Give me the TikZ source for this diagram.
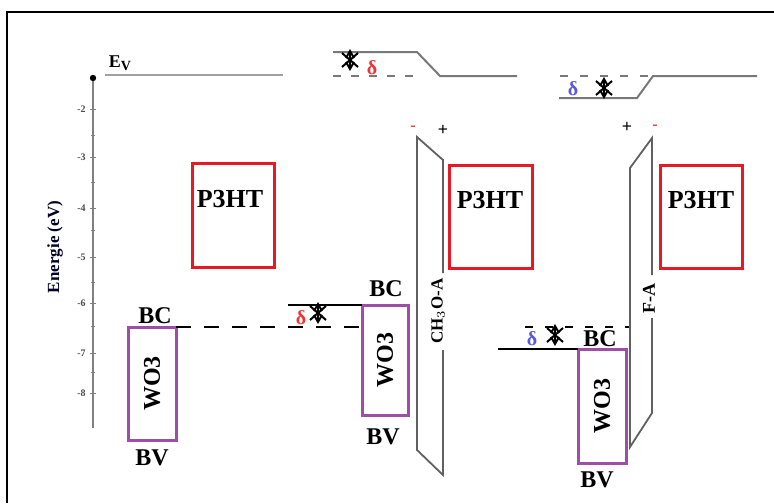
\documentclass[tikz,border=0pt]{standalone}
\usepackage{fontspec}
\setmainfont{Liberation Serif}
\usepackage{xcolor}
\usetikzlibrary{arrows.meta}

\definecolor{pthtred}{RGB}{232,24,36}
\definecolor{wopurple}{RGB}{158,78,168}
\definecolor{deltared}{RGB}{240,52,52}
\definecolor{deltablue}{RGB}{88,88,225}
\definecolor{levelgray}{RGB}{120,120,120}

\tikzset{
  pbox/.style={draw=pthtred,line width=1.5pt,inner sep=0pt,outer sep=0pt},
  wbox/.style={draw=wopurple,line width=1.5pt,inner sep=0pt,outer sep=0pt},
  tag/.style={font=\bfseries\fontsize{12}{12}\selectfont,inner sep=0pt},
  level/.style={levelgray,line width=1pt},
  dipole/.style={gray!75!black,line width=0.9pt},
  deltasym/.style={font=\bfseries\fontsize{10}{10}\selectfont,inner sep=0pt},
  blocked/.pic={
    \draw[line width=1pt,{Straight Barb[length=3.5pt,width=4pt]}-{Straight Barb[length=3.5pt,width=4pt]}] (0,-11) -- (0,11);
    \draw[line width=1pt] (-8,-7) -- (8,7) (-8,7) -- (8,-7);
  }
}

\begin{document}
\begin{tikzpicture}[x=0.5pt,y=-0.5pt]
\useasboundingbox (0,0) rectangle (774,503);
% frame
\draw[line width=1.2pt] (7,503) -- (7,12) -- (774,12);

% energy axis
\draw[gray,line width=0.8pt] (93,78) -- (93,428);
\fill (93,78) circle (1.6pt);
\foreach \v/\y in {-2/109,-3/157,-4/208,-5/257,-6/303,-7/353,-8/393} {
  \draw[gray] (90,\y) -- (96,\y);
  \node[anchor=east,inner sep=0pt,font=\bfseries\fontsize{5}{5}\selectfont,gray!60!black] at (86,\y) {\v};
}
\foreach \y in {135,182,230,282,326,372} \draw[gray] (91,\y) -- (95,\y);
\node[rotate=90,font=\bfseries\fontsize{8.5}{9}\selectfont,text=black!85!blue] (axlabel) at (55,247) {Energie (eV)};

% vacuum level, left
\node[font=\bfseries\fontsize{9}{9}\selectfont,inner sep=0pt] (ev) at (120,63) {E\raisebox{-0.35ex}{\fontsize{7}{7}\selectfont V}};
\draw[levelgray!70,line width=1pt] (105,75) -- (283,75);

% vacuum level, CH3O-A
\draw[level] (333,52) -- (417,52) -- (440,76) -- (517,76);
\draw[level,dash pattern=on 4pt off 5pt] (333,76) -- (417,76);
\node[deltasym,text=deltared] (dtop1) at (372,68) {δ};
\pic at (350,60) {blocked};

% vacuum level, F-A
\draw[level,dash pattern=on 4pt off 6pt] (560,76) -- (653,76);
\draw[level] (559,98) -- (637,98) -- (653,76) -- (757,76);
\node[deltasym,text=deltablue] (dtop2) at (573,89) {δ};
\pic at (604,88) {blocked};

% P3HT blocks
\node[pbox,minimum width=41pt,minimum height=52pt] (p1) at (233,215) {};
\node[pbox,minimum width=41.5pt,minimum height=51.5pt] (p2) at (490.5,216.5) {};
\node[pbox,minimum width=41pt,minimum height=51.5pt] (p3) at (701,216.5) {};
\node[tag,font=\bfseries\fontsize{13}{13}\selectfont] (p1t) at (230,199) {P3HT};
\node[tag,font=\bfseries\fontsize{13}{13}\selectfont] (p2t) at (490,200) {P3HT};
\node[tag,font=\bfseries\fontsize{13}{13}\selectfont] (p3t) at (701,200) {P3HT};

% WO3 blocks
\node[wbox,minimum width=24pt,minimum height=56.5pt] (w1) at (152,383.5) {};
\node[wbox,minimum width=23pt,minimum height=55pt] (w2) at (385,360) {};
\node[wbox,minimum width=24pt,minimum height=57pt] (w3) at (602,406) {};
\node[tag,rotate=90] (w1t) at (w1) {WO3};
\node[tag,rotate=90] (w2t) at (w2) {WO3};
\node[tag,rotate=90] (w3t) at (w3) {WO3};
\node[tag] (bc1) at (155,316) {BC};
\node[tag] (bv1) at (152,458) {BV};
\node[tag] (bc2) at (386,289) {BC};
\node[tag] (bv2) at (383,437) {BV};
\node[tag] (bc3) at (600,339) {BC};
\node[tag] (bv3) at (597,480) {BV};

% conduction band alignment
\draw[line width=0.9pt,dash pattern=on 7.5pt off 6.5pt] (w1.north east) -- (w1.north east -| w2.west);
\coordinate (cb2) at (288,305);
\draw[line width=0.8pt] (cb2) -- (w2.north west);
\node[deltasym,text=deltared] (d2) at (301,318) {δ};
\pic at (318,313) {blocked};

\coordinate (cb3) at (498,349);
\draw[line width=0.8pt] (cb3) -- (w3.north west);
\coordinate (cb3a) at (525,327);
\coordinate (cb3b) at (630,327);
\draw[line width=0.8pt,dash pattern=on 4pt off 6pt] (cb3a) -- (cb3b);
\node[deltasym,text=deltablue] (d3) at (532,339) {δ};
\pic at (555,335) {blocked};

% CH3O-A dipole
\draw[dipole] (443,273) -- (443,160) -- (417,137) -- (417,450) -- (443,475) -- (443,350);
\node[rotate=90,inner sep=0pt,font=\bfseries\fontsize{8.5}{9}\selectfont] (chlab) at (438,311) {CH$_3$O-A};
\node[text=deltared,font=\bfseries\fontsize{8}{8}\selectfont,inner sep=0pt] (m1) at (413,128) {-};
\node[font=\bfseries\fontsize{9}{9}\selectfont,inner sep=0pt] (pl1) at (443,130) {+};

% F-A dipole
\draw[dipole] (652,275) -- (652,138) -- (630,168) -- (630,447) -- (652,413) -- (652,318);
\node[rotate=90,inner sep=0pt,font=\bfseries\fontsize{9}{9}\selectfont] (falab) at (649,298) {F-A};
\node[font=\bfseries\fontsize{9}{9}\selectfont,inner sep=0pt] (pl2) at (627,127) {+};
\node[text=deltared,font=\bfseries\fontsize{8}{8}\selectfont,inner sep=0pt] (m2) at (655,127) {-};
\end{tikzpicture}
\end{document}
